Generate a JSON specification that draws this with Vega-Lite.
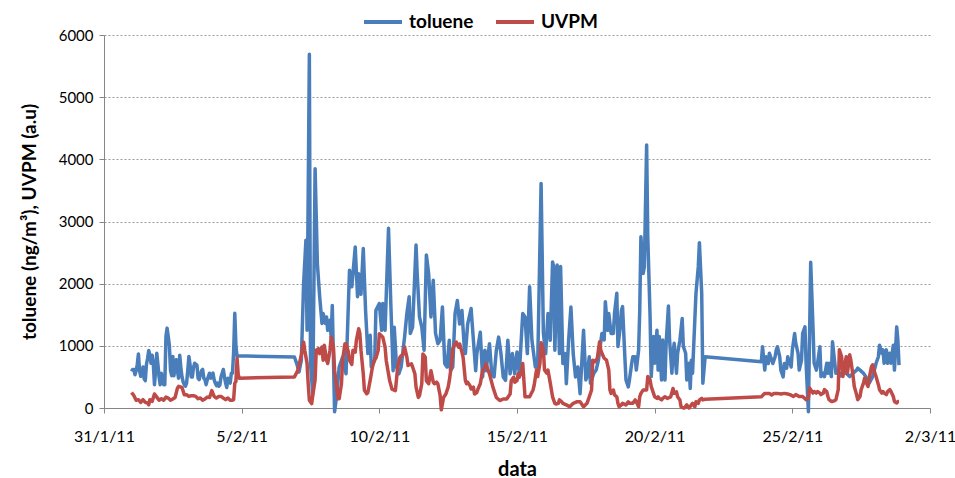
{
"$schema":"https://vega.github.io/schema/vega-lite/v6.json",
"width":826,"height":373,
"autosize":{"type":"none"},
"padding":{"left":104,"top":35,"right":25,"bottom":70},
"background":"white",
"config":{"view":{"stroke":null},"font":"Lato"},
"datasets":{
"toluene":[
{"t":"2011-02-01T00:00","v":590},{"t":"2011-02-01T01:00","v":620},{"t":"2011-02-01T02:00","v":620},{"t":"2011-02-01T03:00","v":535},{"t":"2011-02-01T04:00","v":600},{"t":"2011-02-01T05:00","v":700},{"t":"2011-02-01T06:00","v":870},{"t":"2011-02-01T07:00","v":600},{"t":"2011-02-01T08:00","v":510},{"t":"2011-02-01T09:00","v":560},{"t":"2011-02-01T10:00","v":660},{"t":"2011-02-01T11:00","v":470},{"t":"2011-02-01T12:00","v":440},{"t":"2011-02-01T13:00","v":700},{"t":"2011-02-01T14:00","v":800},{"t":"2011-02-01T15:00","v":925},{"t":"2011-02-01T16:00","v":850},{"t":"2011-02-01T17:00","v":720},{"t":"2011-02-01T18:00","v":850},{"t":"2011-02-01T19:00","v":700},{"t":"2011-02-01T20:00","v":375},{"t":"2011-02-01T21:00","v":600},{"t":"2011-02-01T22:00","v":880},{"t":"2011-02-01T23:00","v":700},
{"t":"2011-02-02T00:00","v":500},{"t":"2011-02-02T01:00","v":375},{"t":"2011-02-02T02:00","v":560},{"t":"2011-02-02T03:00","v":450},{"t":"2011-02-02T04:00","v":375},{"t":"2011-02-02T05:00","v":375},{"t":"2011-02-02T06:00","v":1150},{"t":"2011-02-02T07:00","v":1285},{"t":"2011-02-02T08:00","v":1150},{"t":"2011-02-02T09:00","v":1000},{"t":"2011-02-02T10:00","v":600},{"t":"2011-02-02T11:00","v":520},{"t":"2011-02-02T12:00","v":830},{"t":"2011-02-02T13:00","v":520},{"t":"2011-02-02T14:00","v":700},{"t":"2011-02-02T15:00","v":775},{"t":"2011-02-02T16:00","v":600},{"t":"2011-02-02T17:00","v":480},{"t":"2011-02-02T18:00","v":850},{"t":"2011-02-02T19:00","v":650},{"t":"2011-02-02T20:00","v":500},{"t":"2011-02-02T21:00","v":420},{"t":"2011-02-02T22:00","v":375},{"t":"2011-02-02T23:00","v":350},
{"t":"2011-02-03T00:00","v":400},{"t":"2011-02-03T01:00","v":600},{"t":"2011-02-03T02:00","v":830},{"t":"2011-02-03T03:00","v":700},{"t":"2011-02-03T04:00","v":500},{"t":"2011-02-03T05:00","v":500},{"t":"2011-02-03T06:00","v":650},{"t":"2011-02-03T07:00","v":720},{"t":"2011-02-03T08:00","v":700},{"t":"2011-02-03T09:00","v":690},{"t":"2011-02-03T10:00","v":480},{"t":"2011-02-03T11:00","v":455},{"t":"2011-02-03T12:00","v":540},{"t":"2011-02-03T13:00","v":600},{"t":"2011-02-03T14:00","v":620},{"t":"2011-02-03T15:00","v":480},{"t":"2011-02-03T16:00","v":455},{"t":"2011-02-03T17:00","v":375},{"t":"2011-02-03T18:00","v":450},{"t":"2011-02-03T19:00","v":510},{"t":"2011-02-03T20:00","v":560},{"t":"2011-02-03T21:00","v":480},{"t":"2011-02-03T22:00","v":520},{"t":"2011-02-03T23:00","v":560},
{"t":"2011-02-04T00:00","v":455},{"t":"2011-02-04T01:00","v":400},{"t":"2011-02-04T02:00","v":360},{"t":"2011-02-04T03:00","v":400},{"t":"2011-02-04T04:00","v":350},{"t":"2011-02-04T05:00","v":370},{"t":"2011-02-04T06:00","v":500},{"t":"2011-02-04T07:00","v":560},{"t":"2011-02-04T08:00","v":620},{"t":"2011-02-04T09:00","v":500},{"t":"2011-02-04T10:00","v":400},{"t":"2011-02-04T11:00","v":330},{"t":"2011-02-04T12:00","v":480},{"t":"2011-02-04T13:00","v":440},{"t":"2011-02-04T14:00","v":400},{"t":"2011-02-04T15:00","v":560},{"t":"2011-02-04T16:00","v":560},{"t":"2011-02-04T17:00","v":900},{"t":"2011-02-04T18:00","v":1525},{"t":"2011-02-04T19:00","v":1000},{"t":"2011-02-04T20:00","v":830},{"t":"2011-02-04T21:00","v":840},
{"t":"2011-02-06T22:00","v":820},{"t":"2011-02-07T00:00","v":715},{"t":"2011-02-07T02:00","v":580},{"t":"2011-02-07T04:00","v":765},{"t":"2011-02-07T06:00","v":2000},{"t":"2011-02-07T08:00","v":2700},{"t":"2011-02-07T09:00","v":1250},{"t":"2011-02-07T11:00","v":5690},{"t":"2011-02-07T12:00","v":715},{"t":"2011-02-07T14:00","v":230},{"t":"2011-02-07T16:00","v":3850},{"t":"2011-02-07T18:00","v":2320},{"t":"2011-02-07T20:00","v":1790},{"t":"2011-02-07T22:00","v":1360},{"t":"2011-02-07T23:00","v":1520},
{"t":"2011-02-08T01:00","v":1360},{"t":"2011-02-08T02:00","v":1465},{"t":"2011-02-08T03:00","v":1250},{"t":"2011-02-08T05:00","v":1410},{"t":"2011-02-08T06:00","v":1140},{"t":"2011-02-08T07:00","v":1650},{"t":"2011-02-08T09:00","v":-60},{"t":"2011-02-08T11:00","v":230},{"t":"2011-02-08T13:00","v":660},{"t":"2011-02-08T16:00","v":820},{"t":"2011-02-08T19:00","v":550},{"t":"2011-02-08T22:00","v":2215},
{"t":"2011-02-09T00:00","v":1950},{"t":"2011-02-09T01:00","v":2160},{"t":"2011-02-09T03:00","v":2590},{"t":"2011-02-09T05:00","v":1790},{"t":"2011-02-09T06:00","v":2160},{"t":"2011-02-09T08:00","v":1830},{"t":"2011-02-09T10:00","v":2565},{"t":"2011-02-09T12:00","v":1570},{"t":"2011-02-09T14:00","v":875},{"t":"2011-02-09T16:00","v":1170},{"t":"2011-02-09T17:00","v":660},{"t":"2011-02-09T20:00","v":770},{"t":"2011-02-09T21:00","v":1570},
{"t":"2011-02-10T00:00","v":1680},{"t":"2011-02-10T02:00","v":1250},{"t":"2011-02-10T03:00","v":1680},{"t":"2011-02-10T05:00","v":1250},{"t":"2011-02-10T08:00","v":2890},{"t":"2011-02-10T10:00","v":1680},{"t":"2011-02-10T12:00","v":600},{"t":"2011-02-10T13:00","v":1300},{"t":"2011-02-10T15:00","v":660},{"t":"2011-02-10T17:00","v":550},{"t":"2011-02-10T19:00","v":660},{"t":"2011-02-10T22:00","v":1140},
{"t":"2011-02-11T00:00","v":1520},{"t":"2011-02-11T02:00","v":1790},{"t":"2011-02-11T03:00","v":1200},{"t":"2011-02-11T05:00","v":1300},{"t":"2011-02-11T08:00","v":2620},{"t":"2011-02-11T09:00","v":2160},{"t":"2011-02-11T11:00","v":1465},{"t":"2011-02-11T13:00","v":1300},{"t":"2011-02-11T15:00","v":930},{"t":"2011-02-11T17:00","v":2460},{"t":"2011-02-11T19:00","v":2160},{"t":"2011-02-11T21:00","v":1465},{"t":"2011-02-11T23:00","v":2055},
{"t":"2011-02-12T01:00","v":1200},{"t":"2011-02-12T03:00","v":1035},{"t":"2011-02-12T05:00","v":1090},{"t":"2011-02-12T07:00","v":1625},{"t":"2011-02-12T09:00","v":715},{"t":"2011-02-12T11:00","v":660},{"t":"2011-02-12T13:00","v":1090},{"t":"2011-02-12T14:00","v":600},{"t":"2011-02-12T16:00","v":660},{"t":"2011-02-12T18:00","v":1520},{"t":"2011-02-12T20:00","v":1730},{"t":"2011-02-12T22:00","v":1350},
{"t":"2011-02-13T00:00","v":1570},{"t":"2011-02-13T02:00","v":980},{"t":"2011-02-13T03:00","v":875},{"t":"2011-02-13T05:00","v":1350},{"t":"2011-02-13T08:00","v":1600},{"t":"2011-02-13T10:00","v":1090},{"t":"2011-02-13T12:00","v":600},{"t":"2011-02-13T13:00","v":875},{"t":"2011-02-13T16:00","v":1220},{"t":"2011-02-13T18:00","v":500},{"t":"2011-02-13T20:00","v":930},{"t":"2011-02-13T21:00","v":600},
{"t":"2011-02-14T00:00","v":1035},{"t":"2011-02-14T02:00","v":550},{"t":"2011-02-14T04:00","v":500},{"t":"2011-02-14T06:00","v":930},{"t":"2011-02-14T08:00","v":1140},{"t":"2011-02-14T10:00","v":875},{"t":"2011-02-14T12:00","v":500},{"t":"2011-02-14T14:00","v":445},{"t":"2011-02-14T16:00","v":1090},{"t":"2011-02-14T18:00","v":550},{"t":"2011-02-14T20:00","v":875},{"t":"2011-02-14T22:00","v":550},
{"t":"2011-02-15T00:00","v":900},{"t":"2011-02-15T02:00","v":550},{"t":"2011-02-15T05:00","v":1520},{"t":"2011-02-15T07:00","v":1465},{"t":"2011-02-15T09:00","v":875},{"t":"2011-02-15T11:00","v":1950},{"t":"2011-02-15T13:00","v":1090},{"t":"2011-02-15T16:00","v":660},{"t":"2011-02-15T18:00","v":660},{"t":"2011-02-15T21:00","v":3610},{"t":"2011-02-15T23:00","v":1200},
{"t":"2011-02-16T01:00","v":875},{"t":"2011-02-16T03:00","v":1520},{"t":"2011-02-16T05:00","v":1090},{"t":"2011-02-16T07:00","v":2350},{"t":"2011-02-16T08:00","v":2270},{"t":"2011-02-16T09:00","v":930},{"t":"2011-02-16T11:00","v":2300},{"t":"2011-02-16T13:00","v":875},{"t":"2011-02-16T14:00","v":2275},{"t":"2011-02-16T16:00","v":715},{"t":"2011-02-16T18:00","v":875},{"t":"2011-02-16T19:00","v":390},{"t":"2011-02-16T21:00","v":1090},{"t":"2011-02-16T23:00","v":1625},
{"t":"2011-02-17T01:00","v":875},{"t":"2011-02-17T03:00","v":500},{"t":"2011-02-17T05:00","v":660},{"t":"2011-02-17T07:00","v":230},{"t":"2011-02-17T10:00","v":1250},{"t":"2011-02-17T12:00","v":450},{"t":"2011-02-17T13:00","v":505},{"t":"2011-02-17T15:00","v":825},{"t":"2011-02-17T16:00","v":400},{"t":"2011-02-17T17:00","v":450},{"t":"2011-02-17T19:00","v":560},{"t":"2011-02-17T21:00","v":610},{"t":"2011-02-17T23:00","v":770},
{"t":"2011-02-18T02:00","v":1200},{"t":"2011-02-18T04:00","v":1095},{"t":"2011-02-18T05:00","v":1710},{"t":"2011-02-18T07:00","v":1250},{"t":"2011-02-18T08:00","v":1520},{"t":"2011-02-18T10:00","v":1200},{"t":"2011-02-18T12:00","v":1200},{"t":"2011-02-18T13:00","v":1520},{"t":"2011-02-18T15:00","v":1845},{"t":"2011-02-18T16:00","v":990},{"t":"2011-02-18T18:00","v":1310},{"t":"2011-02-18T19:00","v":1570},{"t":"2011-02-18T20:00","v":1630},{"t":"2011-02-18T22:00","v":825},{"t":"2011-02-18T23:00","v":450},
{"t":"2011-02-19T01:00","v":340},{"t":"2011-02-19T02:00","v":450},{"t":"2011-02-19T04:00","v":720},{"t":"2011-02-19T05:00","v":825},{"t":"2011-02-19T07:00","v":825},{"t":"2011-02-19T08:00","v":610},{"t":"2011-02-19T10:00","v":930},{"t":"2011-02-19T11:00","v":1570},{"t":"2011-02-19T12:00","v":2755},{"t":"2011-02-19T14:00","v":2165},{"t":"2011-02-19T15:00","v":2270},{"t":"2011-02-19T17:00","v":4230},{"t":"2011-02-19T18:00","v":2755},{"t":"2011-02-19T20:00","v":1470},{"t":"2011-02-19T21:00","v":505},{"t":"2011-02-19T23:00","v":1150},
{"t":"2011-02-20T00:00","v":720},{"t":"2011-02-20T02:00","v":1250},{"t":"2011-02-20T03:00","v":610},{"t":"2011-02-20T04:00","v":1150},{"t":"2011-02-20T06:00","v":450},{"t":"2011-02-20T07:00","v":1095},{"t":"2011-02-20T09:00","v":450},{"t":"2011-02-20T10:00","v":1040},{"t":"2011-02-20T12:00","v":1640},{"t":"2011-02-20T13:00","v":1090},{"t":"2011-02-20T15:00","v":560},{"t":"2011-02-20T16:00","v":880},{"t":"2011-02-20T17:00","v":1040},{"t":"2011-02-20T19:00","v":560},{"t":"2011-02-20T20:00","v":880},{"t":"2011-02-20T22:00","v":1090},
{"t":"2011-02-21T00:00","v":1440},{"t":"2011-02-21T01:00","v":990},{"t":"2011-02-21T03:00","v":880},{"t":"2011-02-21T04:00","v":450},{"t":"2011-02-21T06:00","v":720},{"t":"2011-02-21T07:00","v":315},{"t":"2011-02-21T08:00","v":770},{"t":"2011-02-21T09:00","v":560},{"t":"2011-02-21T11:00","v":1415},{"t":"2011-02-21T12:00","v":1845},{"t":"2011-02-21T14:00","v":2270},{"t":"2011-02-21T15:00","v":2660},{"t":"2011-02-21T17:00","v":1845},{"t":"2011-02-21T18:00","v":400},{"t":"2011-02-21T20:00","v":825},
{"t":"2011-02-23T21:00","v":745},{"t":"2011-02-23T22:00","v":985},
{"t":"2011-02-24T00:00","v":610},{"t":"2011-02-24T01:00","v":825},{"t":"2011-02-24T03:00","v":715},{"t":"2011-02-24T04:00","v":880},{"t":"2011-02-24T06:00","v":770},{"t":"2011-02-24T07:00","v":715},{"t":"2011-02-24T09:00","v":825},{"t":"2011-02-24T10:00","v":935},{"t":"2011-02-24T11:00","v":985},{"t":"2011-02-24T13:00","v":825},{"t":"2011-02-24T14:00","v":610},{"t":"2011-02-24T16:00","v":500},{"t":"2011-02-24T17:00","v":715},{"t":"2011-02-24T19:00","v":640},{"t":"2011-02-24T20:00","v":825},{"t":"2011-02-24T22:00","v":715},{"t":"2011-02-24T23:00","v":660},
{"t":"2011-02-25T00:00","v":935},{"t":"2011-02-25T02:00","v":1200},{"t":"2011-02-25T03:00","v":1040},{"t":"2011-02-25T05:00","v":880},{"t":"2011-02-25T06:00","v":610},{"t":"2011-02-25T08:00","v":770},{"t":"2011-02-25T09:00","v":1200},{"t":"2011-02-25T11:00","v":1305},{"t":"2011-02-25T12:00","v":720},{"t":"2011-02-25T14:00","v":-60},{"t":"2011-02-25T16:00","v":2345},{"t":"2011-02-25T18:00","v":1305},{"t":"2011-02-25T19:00","v":720},{"t":"2011-02-25T21:00","v":610},{"t":"2011-02-25T22:00","v":720},
{"t":"2011-02-26T00:00","v":985},{"t":"2011-02-26T01:00","v":505},{"t":"2011-02-26T03:00","v":560},{"t":"2011-02-26T04:00","v":505},{"t":"2011-02-26T06:00","v":720},{"t":"2011-02-26T07:00","v":560},{"t":"2011-02-26T08:00","v":720},{"t":"2011-02-26T10:00","v":505},{"t":"2011-02-26T11:00","v":1065},{"t":"2011-02-26T13:00","v":720},{"t":"2011-02-26T14:00","v":560},{"t":"2011-02-26T16:00","v":610},{"t":"2011-02-26T17:00","v":505},{"t":"2011-02-26T19:00","v":560},{"t":"2011-02-26T20:00","v":560},{"t":"2011-02-26T23:00","v":560},
{"t":"2011-02-27T02:00","v":505},{"t":"2011-02-27T05:00","v":560},{"t":"2011-02-27T08:00","v":610},{"t":"2011-02-27T09:00","v":640},{"t":"2011-02-27T11:00","v":610},{"t":"2011-02-27T14:00","v":560},{"t":"2011-02-27T16:00","v":505},{"t":"2011-02-27T19:00","v":400},{"t":"2011-02-27T22:00","v":505},
{"t":"2011-02-28T01:00","v":720},{"t":"2011-02-28T03:00","v":825},{"t":"2011-02-28T04:00","v":1010},{"t":"2011-02-28T06:00","v":880},{"t":"2011-02-28T07:00","v":935},{"t":"2011-02-28T08:00","v":720},{"t":"2011-02-28T10:00","v":935},{"t":"2011-02-28T11:00","v":720},{"t":"2011-02-28T13:00","v":880},{"t":"2011-02-28T14:00","v":720},{"t":"2011-02-28T16:00","v":1010},{"t":"2011-02-28T17:00","v":610},{"t":"2011-02-28T19:00","v":1305},{"t":"2011-02-28T20:00","v":1090},{"t":"2011-02-28T21:00","v":690}
],
"uvpm":[
{"t":"2011-02-01T00:00","v":250},{"t":"2011-02-01T02:00","v":200},{"t":"2011-02-01T04:00","v":125},{"t":"2011-02-01T06:00","v":134},{"t":"2011-02-01T08:00","v":90},{"t":"2011-02-01T10:00","v":134},{"t":"2011-02-01T12:00","v":90},{"t":"2011-02-01T14:00","v":80},{"t":"2011-02-01T15:00","v":53},{"t":"2011-02-01T16:00","v":134},{"t":"2011-02-01T18:00","v":107},{"t":"2011-02-01T20:00","v":225},{"t":"2011-02-01T22:00","v":175},
{"t":"2011-02-02T00:00","v":125},{"t":"2011-02-02T02:00","v":150},{"t":"2011-02-02T04:00","v":125},{"t":"2011-02-02T06:00","v":175},{"t":"2011-02-02T08:00","v":160},{"t":"2011-02-02T10:00","v":125},{"t":"2011-02-02T12:00","v":145},{"t":"2011-02-02T14:00","v":170},{"t":"2011-02-02T16:00","v":320},{"t":"2011-02-02T17:00","v":348},{"t":"2011-02-02T20:00","v":330},{"t":"2011-02-02T22:00","v":213},
{"t":"2011-02-03T00:00","v":213},{"t":"2011-02-03T02:00","v":187},{"t":"2011-02-03T04:00","v":197},{"t":"2011-02-03T06:00","v":197},{"t":"2011-02-03T08:00","v":187},{"t":"2011-02-03T10:00","v":150},{"t":"2011-02-03T12:00","v":160},{"t":"2011-02-03T14:00","v":125},{"t":"2011-02-03T16:00","v":145},{"t":"2011-02-03T18:00","v":175},{"t":"2011-02-03T20:00","v":170},{"t":"2011-02-03T22:00","v":280},
{"t":"2011-02-04T00:00","v":187},{"t":"2011-02-04T02:00","v":160},{"t":"2011-02-04T04:00","v":187},{"t":"2011-02-04T06:00","v":187},{"t":"2011-02-04T08:00","v":160},{"t":"2011-02-04T10:00","v":134},{"t":"2011-02-04T12:00","v":160},{"t":"2011-02-04T14:00","v":125},{"t":"2011-02-04T16:00","v":125},{"t":"2011-02-04T17:00","v":134},{"t":"2011-02-04T18:00","v":400},{"t":"2011-02-04T19:00","v":428},{"t":"2011-02-04T20:00","v":800},{"t":"2011-02-04T21:00","v":535},{"t":"2011-02-04T22:00","v":480},
{"t":"2011-02-06T22:00","v":500},{"t":"2011-02-07T01:00","v":605},{"t":"2011-02-07T04:00","v":850},{"t":"2011-02-07T06:00","v":1060},{"t":"2011-02-07T07:00","v":930},{"t":"2011-02-07T09:00","v":715},{"t":"2011-02-07T10:00","v":390},{"t":"2011-02-07T11:00","v":125},{"t":"2011-02-07T13:00","v":70},{"t":"2011-02-07T14:00","v":205},{"t":"2011-02-07T16:00","v":450},{"t":"2011-02-07T17:00","v":930},{"t":"2011-02-07T19:00","v":955},{"t":"2011-02-07T20:00","v":875},{"t":"2011-02-07T22:00","v":980},{"t":"2011-02-07T23:00","v":770},
{"t":"2011-02-08T00:00","v":1010},{"t":"2011-02-08T02:00","v":770},{"t":"2011-02-08T03:00","v":715},{"t":"2011-02-08T05:00","v":930},{"t":"2011-02-08T06:00","v":1140},{"t":"2011-02-08T08:00","v":980},{"t":"2011-02-08T09:00","v":605},{"t":"2011-02-08T11:00","v":310},{"t":"2011-02-08T12:00","v":150},{"t":"2011-02-08T13:00","v":150},{"t":"2011-02-08T15:00","v":390},{"t":"2011-02-08T16:00","v":770},{"t":"2011-02-08T18:00","v":1035},{"t":"2011-02-08T19:00","v":1035},{"t":"2011-02-08T21:00","v":900},{"t":"2011-02-08T22:00","v":770},
{"t":"2011-02-09T00:00","v":700},{"t":"2011-02-09T01:00","v":930},{"t":"2011-02-09T03:00","v":900},{"t":"2011-02-09T04:00","v":1090},{"t":"2011-02-09T06:00","v":1275},{"t":"2011-02-09T07:00","v":1200},{"t":"2011-02-09T08:00","v":930},{"t":"2011-02-09T10:00","v":550},{"t":"2011-02-09T11:00","v":285},{"t":"2011-02-09T13:00","v":230},{"t":"2011-02-09T14:00","v":250},{"t":"2011-02-09T16:00","v":445},{"t":"2011-02-09T18:00","v":660},{"t":"2011-02-09T20:00","v":790},{"t":"2011-02-09T21:00","v":800},{"t":"2011-02-09T23:00","v":930},
{"t":"2011-02-10T00:00","v":1195},{"t":"2011-02-10T03:00","v":1140},{"t":"2011-02-10T05:00","v":980},{"t":"2011-02-10T06:00","v":765},{"t":"2011-02-10T09:00","v":440},{"t":"2011-02-10T11:00","v":305},{"t":"2011-02-10T14:00","v":280},{"t":"2011-02-10T16:00","v":655},{"t":"2011-02-10T18:00","v":820},{"t":"2011-02-10T21:00","v":870},{"t":"2011-02-10T22:00","v":980},
{"t":"2011-02-11T00:00","v":820},{"t":"2011-02-11T01:00","v":685},{"t":"2011-02-11T04:00","v":710},{"t":"2011-02-11T05:00","v":660},{"t":"2011-02-11T07:00","v":550},{"t":"2011-02-11T08:00","v":335},{"t":"2011-02-11T10:00","v":170},{"t":"2011-02-11T11:00","v":200},{"t":"2011-02-11T13:00","v":390},{"t":"2011-02-11T14:00","v":870},{"t":"2011-02-11T16:00","v":820},{"t":"2011-02-11T17:00","v":440},{"t":"2011-02-11T19:00","v":390},{"t":"2011-02-11T20:00","v":495},{"t":"2011-02-11T21:00","v":600},{"t":"2011-02-11T23:00","v":415},
{"t":"2011-02-12T00:00","v":390},{"t":"2011-02-12T02:00","v":415},{"t":"2011-02-12T03:00","v":390},{"t":"2011-02-12T05:00","v":200},{"t":"2011-02-12T06:00","v":-30},{"t":"2011-02-12T08:00","v":170},{"t":"2011-02-12T10:00","v":225},{"t":"2011-02-12T12:00","v":335},{"t":"2011-02-12T13:00","v":440},{"t":"2011-02-12T15:00","v":710},{"t":"2011-02-12T16:00","v":950},{"t":"2011-02-12T18:00","v":1030},{"t":"2011-02-12T19:00","v":1060},{"t":"2011-02-12T21:00","v":980},{"t":"2011-02-12T22:00","v":1030},
{"t":"2011-02-13T00:00","v":900},{"t":"2011-02-13T01:00","v":820},{"t":"2011-02-13T03:00","v":440},{"t":"2011-02-13T04:00","v":390},{"t":"2011-02-13T05:00","v":415},{"t":"2011-02-13T07:00","v":360},{"t":"2011-02-13T08:00","v":305},{"t":"2011-02-13T10:00","v":335},{"t":"2011-02-13T11:00","v":225},{"t":"2011-02-13T13:00","v":250},{"t":"2011-02-13T14:00","v":305},{"t":"2011-02-13T16:00","v":390},{"t":"2011-02-13T17:00","v":495},{"t":"2011-02-13T18:00","v":600},{"t":"2011-02-13T20:00","v":655},{"t":"2011-02-13T21:00","v":710},{"t":"2011-02-13T23:00","v":600},
{"t":"2011-02-14T00:00","v":550},{"t":"2011-02-14T03:00","v":335},{"t":"2011-02-14T06:00","v":170},{"t":"2011-02-14T09:00","v":120},{"t":"2011-02-14T12:00","v":145},{"t":"2011-02-14T15:00","v":145},{"t":"2011-02-14T18:00","v":225},{"t":"2011-02-14T19:00","v":440},{"t":"2011-02-14T21:00","v":495},{"t":"2011-02-14T22:00","v":415},
{"t":"2011-02-15T00:00","v":440},{"t":"2011-02-15T01:00","v":550},{"t":"2011-02-15T02:00","v":495},{"t":"2011-02-15T04:00","v":600},{"t":"2011-02-15T05:00","v":715},{"t":"2011-02-15T07:00","v":180},{"t":"2011-02-15T09:00","v":180},{"t":"2011-02-15T11:00","v":180},{"t":"2011-02-15T14:00","v":290},{"t":"2011-02-15T15:00","v":370},{"t":"2011-02-15T17:00","v":610},{"t":"2011-02-15T18:00","v":505},{"t":"2011-02-15T20:00","v":720},{"t":"2011-02-15T21:00","v":1050},{"t":"2011-02-15T23:00","v":935},
{"t":"2011-02-16T00:00","v":610},{"t":"2011-02-16T02:00","v":560},{"t":"2011-02-16T03:00","v":610},{"t":"2011-02-16T05:00","v":400},{"t":"2011-02-16T06:00","v":290},{"t":"2011-02-16T07:00","v":180},{"t":"2011-02-16T09:00","v":75},{"t":"2011-02-16T10:00","v":65},{"t":"2011-02-16T12:00","v":75},{"t":"2011-02-16T13:00","v":130},{"t":"2011-02-16T15:00","v":100},{"t":"2011-02-16T16:00","v":75},{"t":"2011-02-16T19:00","v":50},{"t":"2011-02-16T22:00","v":20},
{"t":"2011-02-17T01:00","v":75},{"t":"2011-02-17T04:00","v":100},{"t":"2011-02-17T07:00","v":100},{"t":"2011-02-17T10:00","v":20},{"t":"2011-02-17T13:00","v":75},{"t":"2011-02-17T15:00","v":180},{"t":"2011-02-17T17:00","v":290},{"t":"2011-02-17T18:00","v":770},{"t":"2011-02-17T20:00","v":745},{"t":"2011-02-17T22:00","v":800},
{"t":"2011-02-18T00:00","v":1065},{"t":"2011-02-18T01:00","v":935},{"t":"2011-02-18T02:00","v":880},{"t":"2011-02-18T04:00","v":800},{"t":"2011-02-18T06:00","v":770},{"t":"2011-02-18T08:00","v":610},{"t":"2011-02-18T09:00","v":290},{"t":"2011-02-18T10:00","v":235},{"t":"2011-02-18T12:00","v":290},{"t":"2011-02-18T13:00","v":210},{"t":"2011-02-18T15:00","v":180},{"t":"2011-02-18T16:00","v":75},{"t":"2011-02-18T17:00","v":20},{"t":"2011-02-18T19:00","v":50},{"t":"2011-02-18T20:00","v":75},{"t":"2011-02-18T23:00","v":50},
{"t":"2011-02-19T01:00","v":100},{"t":"2011-02-19T02:00","v":75},{"t":"2011-02-19T05:00","v":75},{"t":"2011-02-19T07:00","v":130},{"t":"2011-02-19T08:00","v":100},{"t":"2011-02-19T10:00","v":20},{"t":"2011-02-19T11:00","v":180},{"t":"2011-02-19T12:00","v":235},{"t":"2011-02-19T14:00","v":290},{"t":"2011-02-19T15:00","v":290},{"t":"2011-02-19T17:00","v":290},{"t":"2011-02-19T18:00","v":505},{"t":"2011-02-19T20:00","v":450},{"t":"2011-02-19T21:00","v":345},{"t":"2011-02-19T23:00","v":235},
{"t":"2011-02-20T00:00","v":180},{"t":"2011-02-20T02:00","v":155},{"t":"2011-02-20T03:00","v":180},{"t":"2011-02-20T04:00","v":155},{"t":"2011-02-20T06:00","v":130},{"t":"2011-02-20T07:00","v":155},{"t":"2011-02-20T09:00","v":180},{"t":"2011-02-20T11:00","v":155},{"t":"2011-02-20T14:00","v":180},{"t":"2011-02-20T16:00","v":315},{"t":"2011-02-20T17:00","v":235},{"t":"2011-02-20T19:00","v":260},{"t":"2011-02-20T20:00","v":180},{"t":"2011-02-20T22:00","v":130},{"t":"2011-02-20T23:00","v":20},
{"t":"2011-02-21T01:00","v":0},{"t":"2011-02-21T02:00","v":0},{"t":"2011-02-21T04:00","v":50},{"t":"2011-02-21T05:00","v":20},{"t":"2011-02-21T06:00","v":0},{"t":"2011-02-21T08:00","v":50},{"t":"2011-02-21T09:00","v":75},{"t":"2011-02-21T11:00","v":20},{"t":"2011-02-21T12:00","v":100},{"t":"2011-02-21T14:00","v":75},{"t":"2011-02-21T15:00","v":130},{"t":"2011-02-21T17:00","v":155},{"t":"2011-02-21T18:00","v":130},{"t":"2011-02-21T20:00","v":140},
{"t":"2011-02-23T21:00","v":180},{"t":"2011-02-23T22:00","v":200},
{"t":"2011-02-24T00:00","v":235},{"t":"2011-02-24T04:00","v":235},{"t":"2011-02-24T06:00","v":210},{"t":"2011-02-24T08:00","v":235},{"t":"2011-02-24T11:00","v":235},{"t":"2011-02-24T14:00","v":225},{"t":"2011-02-24T17:00","v":235},{"t":"2011-02-24T20:00","v":225},{"t":"2011-02-24T22:00","v":215},
{"t":"2011-02-25T01:00","v":185},{"t":"2011-02-25T03:00","v":215},{"t":"2011-02-25T06:00","v":185},{"t":"2011-02-25T09:00","v":185},{"t":"2011-02-25T12:00","v":135},{"t":"2011-02-25T14:00","v":160},{"t":"2011-02-25T15:00","v":320},{"t":"2011-02-25T16:00","v":295},{"t":"2011-02-25T18:00","v":240},{"t":"2011-02-25T19:00","v":265},{"t":"2011-02-25T21:00","v":240},{"t":"2011-02-25T22:00","v":265},
{"t":"2011-02-26T00:00","v":240},{"t":"2011-02-26T01:00","v":215},{"t":"2011-02-26T03:00","v":240},{"t":"2011-02-26T04:00","v":295},{"t":"2011-02-26T06:00","v":265},{"t":"2011-02-26T07:00","v":185},{"t":"2011-02-26T08:00","v":135},{"t":"2011-02-26T10:00","v":105},{"t":"2011-02-26T11:00","v":105},{"t":"2011-02-26T13:00","v":120},{"t":"2011-02-26T14:00","v":135},{"t":"2011-02-26T16:00","v":295},{"t":"2011-02-26T17:00","v":935},{"t":"2011-02-26T19:00","v":825},{"t":"2011-02-26T20:00","v":505},{"t":"2011-02-26T22:00","v":720},{"t":"2011-02-26T23:00","v":825},
{"t":"2011-02-27T00:00","v":560},{"t":"2011-02-27T02:00","v":855},{"t":"2011-02-27T03:00","v":770},{"t":"2011-02-27T05:00","v":505},{"t":"2011-02-27T06:00","v":345},{"t":"2011-02-27T08:00","v":215},{"t":"2011-02-27T09:00","v":135},{"t":"2011-02-27T11:00","v":185},{"t":"2011-02-27T12:00","v":295},{"t":"2011-02-27T14:00","v":400},{"t":"2011-02-27T15:00","v":480},{"t":"2011-02-27T16:00","v":425},{"t":"2011-02-27T18:00","v":345},{"t":"2011-02-27T19:00","v":480},{"t":"2011-02-27T21:00","v":665},{"t":"2011-02-27T22:00","v":695},
{"t":"2011-02-28T00:00","v":560},{"t":"2011-02-28T01:00","v":505},{"t":"2011-02-28T03:00","v":375},{"t":"2011-02-28T04:00","v":295},{"t":"2011-02-28T06:00","v":240},{"t":"2011-02-28T07:00","v":265},{"t":"2011-02-28T08:00","v":240},{"t":"2011-02-28T10:00","v":215},{"t":"2011-02-28T11:00","v":265},{"t":"2011-02-28T13:00","v":295},{"t":"2011-02-28T14:00","v":265},{"t":"2011-02-28T16:00","v":185},{"t":"2011-02-28T17:00","v":105},{"t":"2011-02-28T19:00","v":80},{"t":"2011-02-28T20:00","v":105},{"t":"2011-02-28T21:00","v":105}
]
},
"encoding":{
"x":{"field":"t","type":"temporal","title":"data",
"scale":{"domain":[{"year":2011,"month":1,"date":31},{"year":2011,"month":3,"date":2}]},
"axis":{"values":[{"year":2011,"month":1,"date":31},{"year":2011,"month":2,"date":5},{"year":2011,"month":2,"date":10},{"year":2011,"month":2,"date":15},{"year":2011,"month":2,"date":20},{"year":2011,"month":2,"date":25},{"year":2011,"month":3,"date":2}],
"format":"%-d/%-m/%y","formatType":"time","grid":false,"domainColor":"#868686","tickColor":"#868686","tickSize":5,"labelPadding":15,"labelFontSize":16,"labelColor":"#000000","labelFont":"Lato","titleFont":"Lato","titleFontSize":20,"titleFontWeight":"bold","titleColor":"#000000","titlePadding":15,"labelFlush":false}},
"y":{"field":"v","type":"quantitative","title":"toluene (ng/m³), UVPM (a.u)",
"scale":{"domain":[0,6000],"nice":false},
"axis":{"values":[0,1000,2000,3000,4000,5000,6000],"format":"d","grid":true,"gridColor":"#9a9a9a","gridDash":[2,2],"gridWidth":1,"domainColor":"#868686","tickColor":"#868686","tickSize":5,"labelPadding":6,"labelFontSize":15,"labelColor":"#000000","labelFont":"Lato","titleFont":"Lato","titleFontSize":19,"titleFontWeight":"bold","titleColor":"#000000","titlePadding":19}}
},
"layer":[
{"data":{"name":"toluene"},"mark":{"type":"line","strokeWidth":3.5,"clip":false,"strokeJoin":"round"},
"encoding":{"color":{"datum":"toluene","type":"nominal","scale":{"domain":["toluene","UVPM"],"range":["#4A7EBB","#BE4B48"]},
"legend":{"title":null,"orient":"none","legendX":258,"legendY":-34,"direction":"horizontal","symbolType":"stroke","symbolSize":1444,"symbolStrokeWidth":4,"labelFontSize":19,"labelFontWeight":"bold","labelFont":"Lato","labelColor":"#000000","labelOffset":5,"columnPadding":14}}}},
{"data":{"name":"uvpm"},"mark":{"type":"line","strokeWidth":3.5,"clip":false,"strokeJoin":"round"},
"encoding":{"color":{"datum":"UVPM","type":"nominal"}}}
]
}
